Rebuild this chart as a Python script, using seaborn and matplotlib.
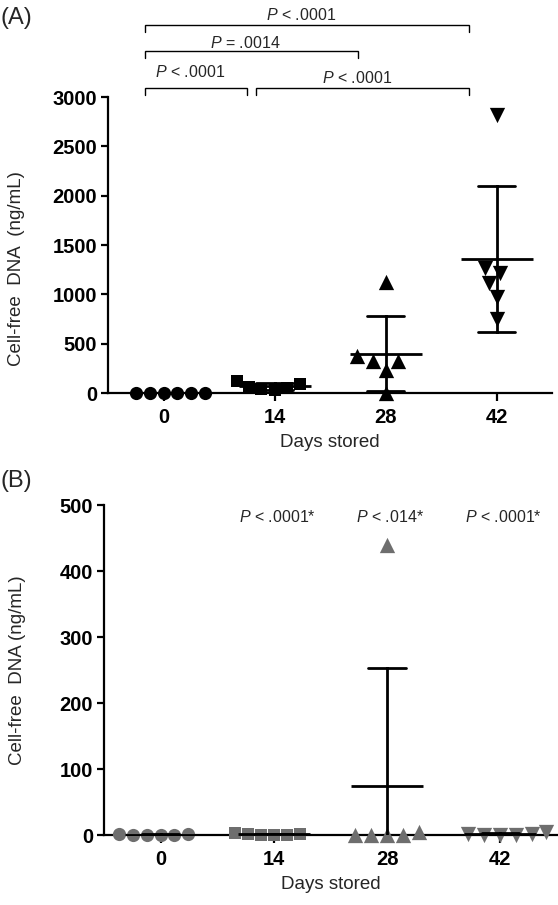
import numpy as np
import pandas as pd
import matplotlib
matplotlib.use("Agg")
import matplotlib.pyplot as plt
import matplotlib.transforms as mtransforms
import seaborn as sns

# ---------------- data ----------------
days = ["0", "14", "28", "42"]
a_day0 = [0, 0, 0, 0, 0, 0]
a_day14 = [37, 125, 50, 90, 30, 64]
a_day28 = [1128, 324, 324, 375, 233, 0]
a_day42 = [2817, 1263, 1219, 1111, 976, 750]
b_day0 = [0, 2, 0, 1, 0, 0]
b_day14 = [1, 3, 0, 1, 0, 0]
b_day28 = [440, 0, 5, 0, 0, 0]
b_day42 = [0, 4, 2, 0, 1, 0]

a_yticks = [0, 500, 1000, 1500, 2000, 2500, 3000]
b_yticks = [0, 100, 200, 300, 400, 500]

a_brackets = [("0", "42", "P < .0001"), ("0", "28", "P = .0014"),
              ("0", "14", "P < .0001"), ("14", "42", "P < .0001")]
b_pvals = ["P < .0001*", "P < .014*", "P < .0001*"]
b_pval_days = ["14", "28", "42"]

markers = ["o", "s", "^", "v"]
msizes = [9.5, 9, 11, 11]

# ---------------- style ----------------
sns.set_style("ticks")
plt.rcParams["font.family"] = ["Liberation Sans", "DejaVu Sans"]
plt.rcParams["mathtext.fontset"] = "custom"
plt.rcParams["mathtext.it"] = "Liberation Sans:italic"
plt.rcParams["mathtext.rm"] = "Liberation Sans"

W, H = 558, 905
fig = plt.figure(figsize=(W / 100, H / 100), dpi=100)
axA = fig.add_axes([108 / W, 1 - 393 / H, 444 / W, 296 / H])
axB = fig.add_axes([104 / W, 1 - 835 / H, 453 / W, 330 / H])


def long_df(groups):
    rows = []
    for d, vals in zip(days, groups):
        for v in vals:
            rows.append({"day": d, "value": v})
    return pd.DataFrame(rows)


def draw_panel(ax, df, color, ylim, yticks):
    for d, m, s in zip(days, markers, msizes):
        sub = df[df["day"] == d]
        sns.swarmplot(data=sub, x="day", y="value", order=days, marker=m,
                      size=s, color=color, linewidth=0, ax=ax,
                      clip_on=False, zorder=3, warn_thresh=1.0)
    sns.pointplot(data=df, x="day", y="value", order=days, errorbar="sd",
                  capsize=0.33, color="black", marker="_", markersize=52,
                  markeredgewidth=2, linestyle="none",
                  err_kws={"linewidth": 2}, ax=ax, zorder=4)
    for ln in ax.lines:
        ln.set_zorder(4)
    ax.set_xlim(-0.5, 3.5)
    ax.set_ylim(*ylim)
    ax.set_yticks(yticks)
    ax.set_yticklabels([str(t) for t in yticks])
    sns.despine(ax=ax)
    for sp in ["left", "bottom"]:
        ax.spines[sp].set_linewidth(1.6)
        ax.spines[sp].set_color("black")
    ax.tick_params(axis="y", length=5, width=1.6, pad=3, labelsize=14.5,
                   colors="black")
    ax.tick_params(axis="x", length=6, width=1.6, pad=5, labelsize=14.5,
                   colors="black")
    for lab in ax.get_xticklabels() + ax.get_yticklabels():
        lab.set_fontweight("bold")
    ax.set_xlabel("Days stored", fontsize=13.5, labelpad=5)


dfA = long_df([a_day0, a_day14, a_day28, a_day42])
dfB = long_df([b_day0, b_day14, b_day28, b_day42])

draw_panel(axA, dfA, "black", (0, 3000), a_yticks)
draw_panel(axB, dfB, "#6e6e6e", (0, 500), b_yticks)

axA.set_ylabel("Cell-free  DNA  (ng/mL)", fontsize=13.5)
axA.yaxis.set_label_coords(-0.205, 0.42)
axA.yaxis.label.set_va("center")
axB.set_ylabel("Cell-free  DNA (ng/mL)", fontsize=13.5)
axB.yaxis.set_label_coords(-0.19, 0.5)
axB.yaxis.label.set_va("center")

# panel letters
fig.text(0 / W, 1 - 18 / H, "(A)", fontsize=17, ha="left", va="center")
fig.text(0 / W, 1 - 481 / H, "(B)", fontsize=17, ha="left", va="center")

# significance brackets for panel A
trA = mtransforms.blended_transform_factory(axA.transData, fig.transFigure)
pos = {d: i for i, d in enumerate(days)}
bracket_y = [25, 51, 88, 88]
text_y = [15, 43, 72, 78]
for (d1, d2, lab), by, ty in zip(a_brackets, bracket_y, text_y):
    x1 = pos[d1] - 0.17
    x2 = pos[d2] - 0.25
    yb = 1 - by / H
    yd = 1 - (by + 7) / H
    axA.plot([x1, x1, x2, x2], [yd, yb, yb, yd], color="black", lw=1.0,
             transform=trA, clip_on=False, solid_joinstyle="miter")
    txt = lab.replace("P", "$P$", 1)
    axA.text((x1 + x2) / 2 - 0.05, 1 - ty / H, txt, transform=trA,
             ha="center", va="center", fontsize=11.5)

# p-values for panel B
trB = mtransforms.blended_transform_factory(axB.transData, fig.transFigure)
for d, lab in zip(b_pval_days, b_pvals):
    txt = lab.replace("P", "$P$", 1)
    axB.text(pos[d] + 0.03, 1 - 517 / H, txt, transform=trB,
             ha="center", va="center", fontsize=11.5)

fig.savefig("out.png", dpi=100)
